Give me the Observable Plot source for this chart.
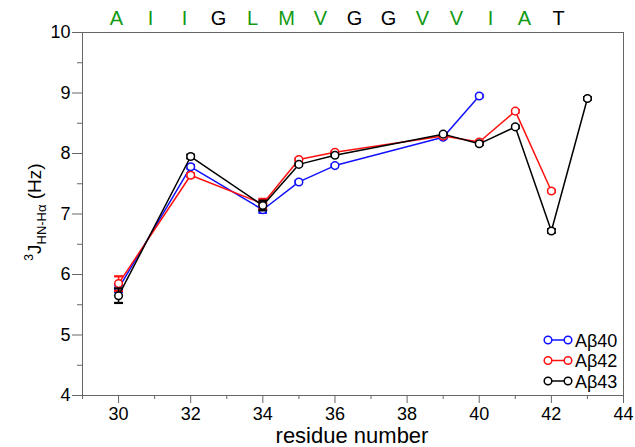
<!DOCTYPE html>
<html><head><meta charset="utf-8">
<script src="https://cdn.jsdelivr.net/npm/d3@7"></script>
<script src="https://cdn.jsdelivr.net/npm/@observablehq/plot@0.6"></script>
<style>
body{margin:0;background:#fff}
#wrap{position:relative;width:635px;height:447px;font-family:"Liberation Sans",Arial,sans-serif}
#wrap svg{position:absolute;left:0;top:0}
</style>
</head><body><div id="wrap"></div>
<script>
// ---- data ----
const sequence = ["A","I","I","G","L","M","V","G","G","V","V","I","A","T"];
const seqColors = ["g","g","g","k","g","g","g","k","k","g","g","g","g","k"];

const res40 = [30,32,34,35,36,39,40];
const j40   = [5.77,7.78,7.07,7.53,7.80,8.27,8.95];
const e40   = [0.06,0.03,0.05,0.02,0.02,0.02,0.02];

const res42 = [30,32,34,35,36,39,40,41,42];
const j42   = [5.85,7.64,7.17,7.90,8.02,8.29,8.19,8.70,7.38];
const e42   = [0.12,0.03,0.08,0.02,0.02,0.02,0.02,0.02,0.02];

const res43 = [30,32,34,35,36,39,40,41,42,43];
const j43   = [5.65,7.95,7.14,7.82,7.97,8.32,8.16,8.44,6.72,8.91];
const e43   = [0.12,0.03,0.08,0.02,0.02,0.02,0.02,0.02,0.03,0.02];

const seriesNames  = ["Aβ40","Aβ42","Aβ43"];
const seriesColors = ["#1010ff","#ff1010","#000000"];

const xMajor = [30,32,34,36,38,40,42,44];
const xMinor = [29,31,33,35,37,39,41,43];
const yMajor = [4,5,6,7,8,9,10];
const yMinor = [4.5,5.5,6.5,7.5,8.5,9.5];

// ---- build table ----
const toRows = (name, xs, ys, es) => xs.map((x,i)=>({name, x, y: ys[i], e: es[i]}));
const series = [
  toRows(seriesNames[0], res40, j40, e40),
  toRows(seriesNames[1], res42, j42, e42),
  toRows(seriesNames[2], res43, j43, e43)
];

const font = "Liberation Sans, Arial, sans-serif";
const axisGray = "#666";
const intFmt = d3.format("d");

const marks = [
  Plot.frame({stroke: axisGray}),
  Plot.axisX(xMajor, {anchor:"bottom", tickSize:8, tickPadding:4, tickFormat:intFmt, stroke:axisGray, fontSize:18, fill:"black", label:null}),
  Plot.axisX(xMinor, {anchor:"bottom", tickSize:4, tickFormat:()=>"", stroke:axisGray, label:null}),
  Plot.axisY(yMajor, {anchor:"left", tickSize:10, tickPadding:2, tickFormat:intFmt, stroke:axisGray, fontSize:18, fill:"black", label:null}),
  Plot.axisY(yMinor, {anchor:"left", tickSize:5, tickFormat:()=>"", stroke:axisGray, label:null})
];
series.forEach((rows, k) => {
  const c = seriesColors[k];
  marks.push(Plot.link(rows, {x1:"x", x2:"x", y1:d=>d.y-d.e, y2:d=>d.y+d.e, stroke:c, strokeWidth:1.5, markerStart:"tick", markerEnd:"tick"}));
  marks.push(Plot.line(rows, {x:"x", y:"y", stroke:c, strokeWidth:1.5}));
  marks.push(Plot.dot(rows, {x:"x", y:"y", r:3.8, stroke:c, strokeWidth:1.5, fill:"white"}));
});

const chart = Plot.plot({
  width:635, height:447,
  marginLeft:82, marginRight:12, marginTop:32, marginBottom:52,
  style:{fontFamily:font, fontSize:"18px", background:"white", color:"black"},
  x:{domain:[29,44], axis:null},
  y:{domain:[4,10], axis:null},
  marks
});
document.getElementById("wrap").appendChild(chart);

// sequence letters along the top
const seqPlot = Plot.plot({
  width:635, height:32, margin:0,
  style:{fontFamily:font, background:"transparent"},
  x:{domain:[0, sequence.length-1], range:[116,558], axis:null},
  y:{domain:[0,1], range:[32,0], axis:null},
  marks:[
    Plot.text(sequence, {x:(d,i)=>i, y:()=>0.45, text:d=>d, fontSize:20,
      fill:(d,i)=>seqColors[i]==="g" ? "#129a12" : "#000"})
  ]
});
seqPlot.style.background = "transparent";
document.getElementById("wrap").appendChild(seqPlot);

// axis titles and legend
const svg = d3.select(chart);
svg.append("text")
  .attr("x", 352).attr("y", 443)
  .attr("text-anchor","middle")
  .attr("font-family", font).attr("font-size", 22)
  .text("residue number");

const yl = svg.append("text")
  .attr("transform","translate(41,212) rotate(-90)")
  .attr("text-anchor","middle")
  .attr("font-family", font).attr("fill","black");
yl.append("tspan").attr("font-size",12).attr("dy",-8).text("3");
yl.append("tspan").attr("font-size",19).attr("dy",8).text("J");
yl.append("tspan").attr("font-size",13).attr("dy",5).text("HN-Hα");
yl.append("tspan").attr("font-size",19).attr("dy",-5).text(" (Hz)");

const leg = svg.append("g").attr("font-family", font);
seriesNames.forEach((n, k) => {
  const yy = 340 + k*20.5;
  const c = seriesColors[k];
  const g = leg.append("g");
  g.append("line").attr("x1",548).attr("x2",568).attr("y1",yy).attr("y2",yy).attr("stroke",c).attr("stroke-width",1.5);
  g.append("circle").attr("cx",548).attr("cy",yy).attr("r",3.8).attr("fill","white").attr("stroke",c).attr("stroke-width",1.5);
  g.append("circle").attr("cx",568).attr("cy",yy).attr("r",3.8).attr("fill","white").attr("stroke",c).attr("stroke-width",1.5);
  g.append("text").attr("x",575).attr("y",yy+6.5).attr("text-anchor","start").attr("font-size",18).attr("fill","black").text(n);
});
</script>
</body></html>
